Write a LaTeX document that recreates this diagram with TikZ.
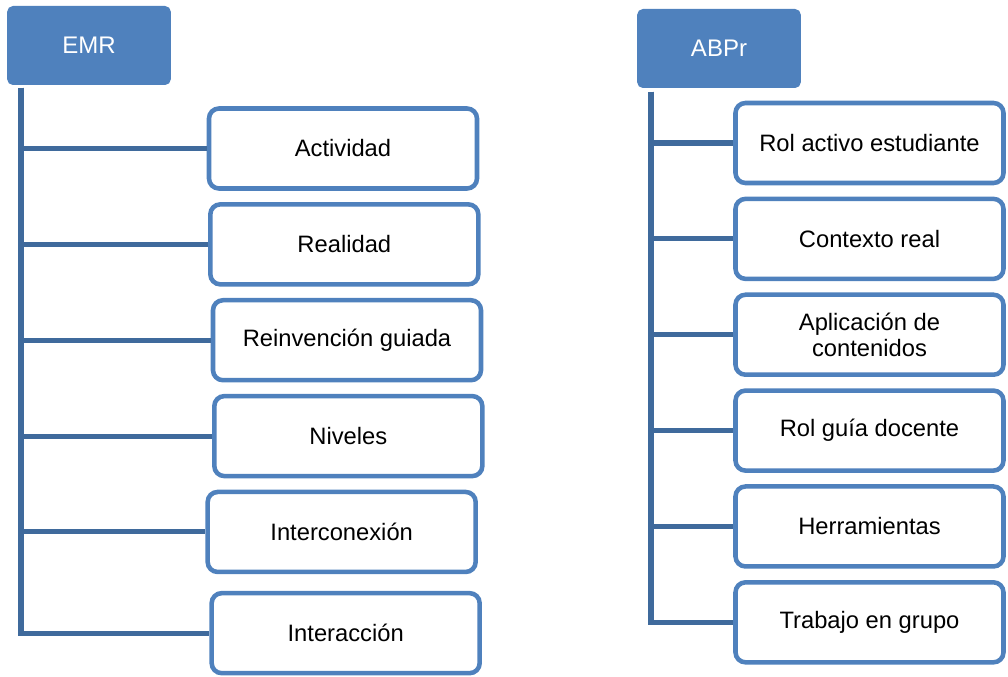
\documentclass[tikz,border=0pt]{standalone}
\usepackage{fontspec}
\setmainfont{Liberation Sans}
\usepackage{tikz}
\usetikzlibrary{positioning}
\definecolor{boxblue}{HTML}{4F81BD}
\definecolor{lineblue}{HTML}{3F6A9C}

\begin{document}
\begin{tikzpicture}[
  x=0.75pt, y=-0.75pt,
  node distance=8.5pt,
  headNode/.style={fill=boxblue, draw=boxblue, line width=0.75pt, rounded corners=4pt, minimum width=122pt, minimum height=58.5pt, align=center, text=white, font=\fontsize{18}{19}\selectfont},
  itemNode/.style={draw=boxblue, line width=3.4pt, fill=white, rounded corners=7.5pt, minimum width=201pt, minimum height=60pt, align=center, font=\fontsize{17.8}{19}\selectfont},
  branch/.style={draw=lineblue, line width=3.8pt}
]
\path[use as bounding box] (0,0) rectangle (1008,677);

% Left tree: EMR
\node[headNode] (emr) at (89,45.5) {EMR};
\node[itemNode] (act) at (343,148.5) {Actividad};
\node[itemNode, below=of act, xshift=1pt] (real) {Realidad};
\node[itemNode, below=of real, xshift=2pt] (reinv) {Reinvención guiada};
\node[itemNode, below=of reinv, xshift=1pt] (niv) {Niveles};
\node[itemNode, below=of niv, xshift=-5pt] (intercon) {Interconexión};
\node[itemNode, below=12.5pt of intercon, xshift=3pt] (interac) {Interacción};

% Right tree: ABPr
\node[headNode] (abpr) at (719,48.5) {ABPr};
\node[itemNode] (rol) at (869.5,143) {Rol activo estudiante};
\node[itemNode, below=of rol] (contexto) {Contexto real};
\node[itemNode, below=of contexto] (aplic) {Aplicación de\\contenidos};
\node[itemNode, below=of aplic] (guia) {Rol guía docente};
\node[itemNode, below=of guia] (herr) {Herramientas};
\node[itemNode, below=of herr] (trabajo) {Trabajo en grupo};

% Trunks
\coordinate (emrTrunk) at (21,88);
\coordinate (abprTrunk) at (651,92);

% Branches
\draw[branch] (emrTrunk) |- (act.west);
\draw[branch] (emrTrunk) |- (real.west);
\draw[branch] (emrTrunk) |- (reinv.west);
\draw[branch] (emrTrunk) |- (niv.west);
\draw[branch] (emrTrunk) |- (intercon.west);
\draw[branch] (emrTrunk) |- (interac.west);

\draw[branch] (abprTrunk) |- (rol.west);
\draw[branch] (abprTrunk) |- (contexto.west);
\draw[branch] (abprTrunk) |- (aplic.west);
\draw[branch] (abprTrunk) |- (guia.west);
\draw[branch] (abprTrunk) |- (herr.west);
\draw[branch] (abprTrunk) |- (trabajo.west);

\end{tikzpicture}
\end{document}
